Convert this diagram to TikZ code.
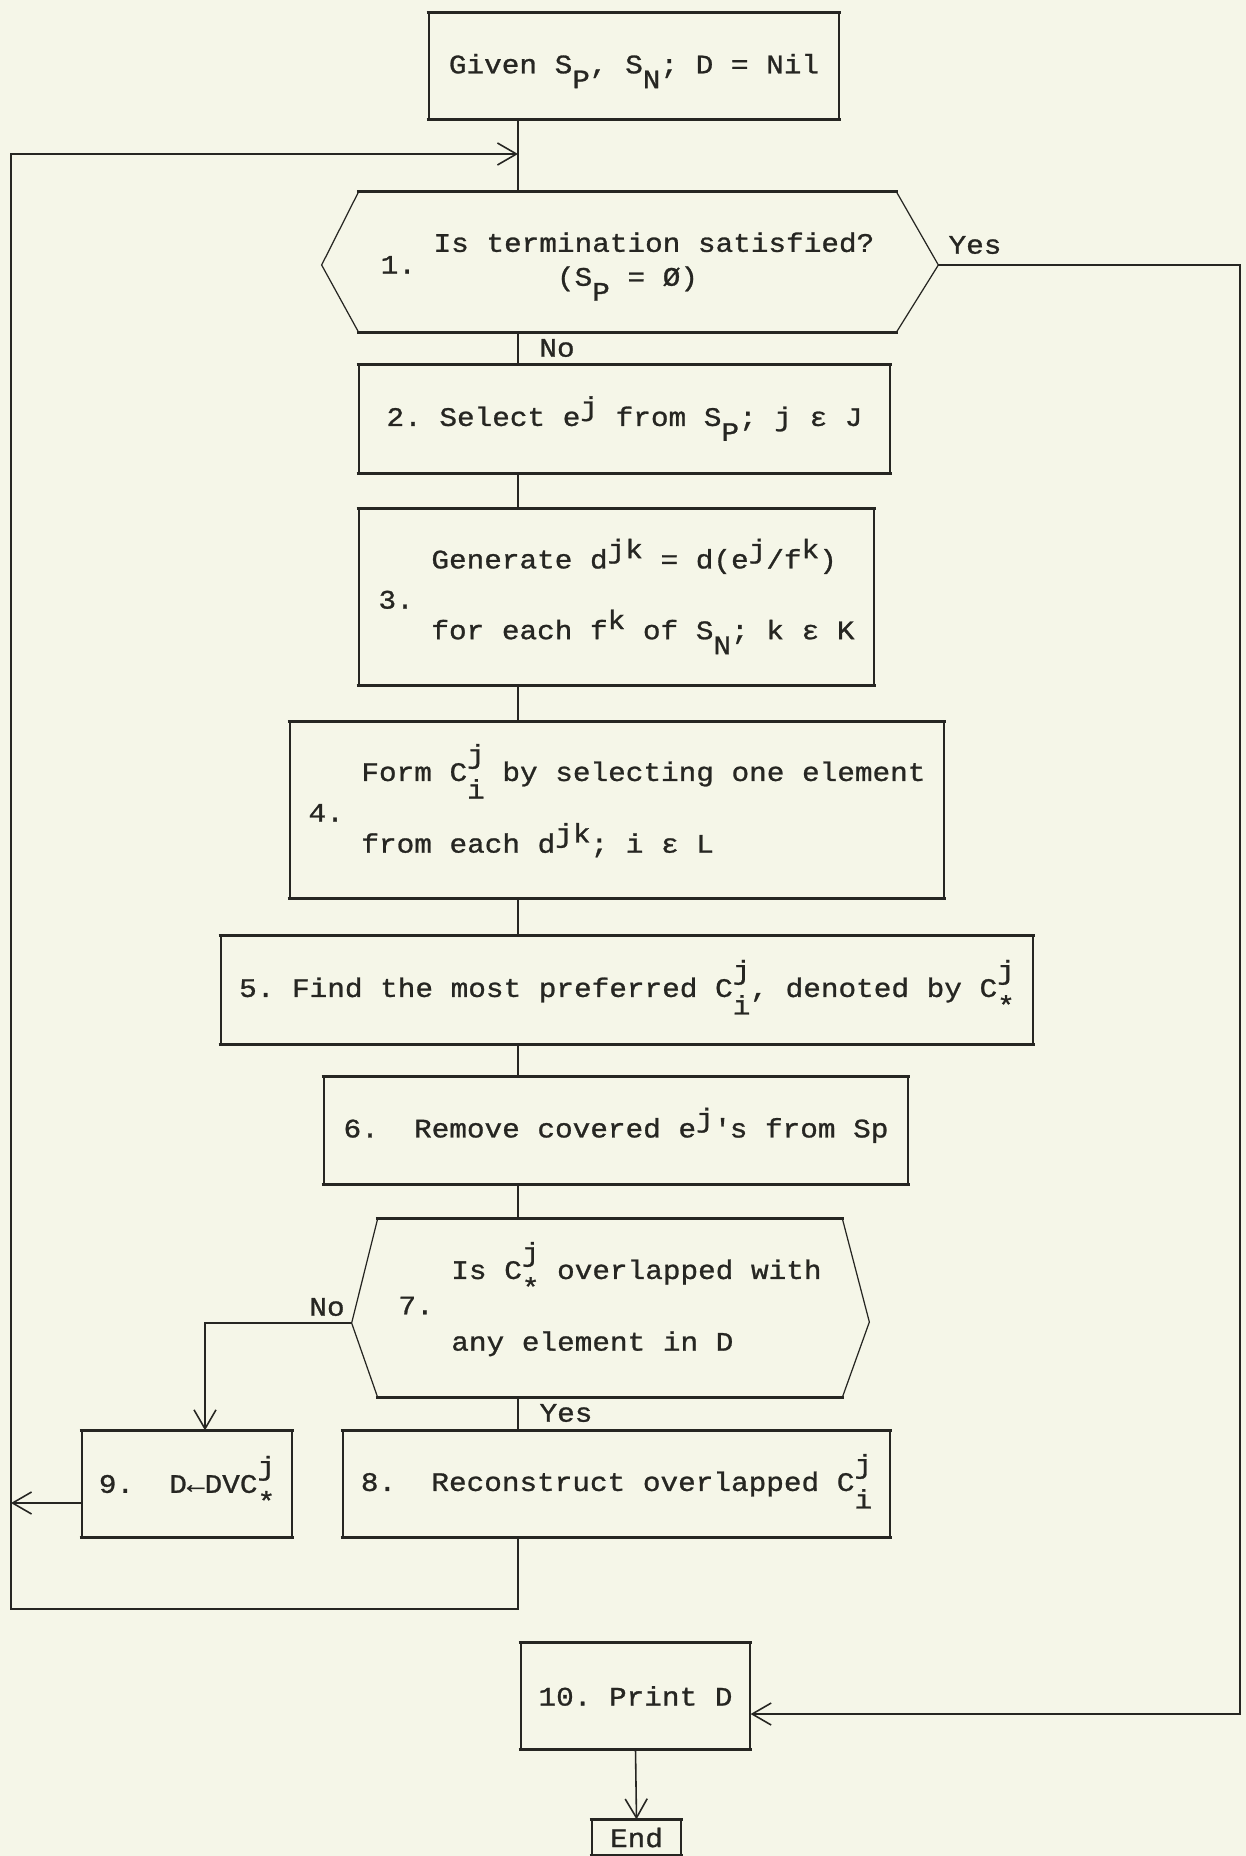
\documentclass[tikz,border=0pt]{standalone}
\usepackage{fontspec}
\setmainfont{Liberation Mono}[FakeStretch=1.1,FakeBold=1]
\usetikzlibrary{arrows.meta}

\definecolor{tinta}{RGB}{38,38,34}
\definecolor{papel}{RGB}{245,246,232}

% sub- e superindices del texto a maquina
\newcommand{\abajo}[1]{\raisebox{-8.5pt}[0pt][0pt]{#1}}
\newcommand{\arriba}[1]{\raisebox{5.8pt}[0pt][0pt]{#1}}
\newcommand{\ambos}[2]{\rlap{\raisebox{10pt}[0pt][0pt]{#1}}\raisebox{-10pt}[0pt][0pt]{#2}}
\newcommand{\paso}[1]{\raisebox{-3pt}{#1}}

\tikzset{
  tam/.style 2 args={minimum width=#1*0.02cm,minimum height=#2*0.02cm},
  caja/.style={draw=tinta,line width=0.7pt,inner sep=0pt},
  hexa/.style={inner sep=0pt},
  lado/.style={draw=tinta,line width=0.7pt},
  borde/.style={draw=tinta,line width=1.6pt},
  linea/.style={draw=tinta,line width=0.9pt},
  flecha/.style={linea,-{Straight Barb[length=3.8mm,width=4.4mm]}},
  etiq/.style={inner sep=0pt}
}

\begin{document}
\frenchspacing
\begin{tikzpicture}[x=0.02cm,y=-0.02cm,
  every node/.style={font=\fontsize{15.2}{19.3}\selectfont,text=tinta}]

% Fondo
\fill[papel] (0,0) rectangle (1246,1856);
\useasboundingbox (0,0) rectangle (1246,1856);

% Cajas
\node[caja,tam={410}{106}] (inicio) at (634,66) {Given S\abajo{P}, S\abajo{N}; D = Nil};

\node[hexa,tam={537}{140}] (dec1) at (627.5,262) {\paso{1.}~\begin{tabular}{@{}l@{}}Is termination satisfied?\\
  \phantom{Is term}(S\abajo{P} = Ø)\end{tabular}};

\node[caja,tam={531}{108}] (p2) at (624.5,419) {2. Select e\arriba{j} from S\abajo{P}; j ε J};

\node[caja,tam={515}{176}] (p3) at (616.5,597) {\paso{3.}~\begin{tabular}{@{}l@{}}Generate d\arriba{jk} = d(e\arriba{j}/f\arriba{k})\\[21pt]
  for each f\arriba{k} of S\abajo{N}; k ε K\end{tabular}};

\node[caja,tam={654}{176}] (p4) at (617,810) {\paso{4.}~\begin{tabular}{@{}l@{}}Form C\ambos{j}{i} by selecting one element\\[21.5pt]
  from each d\arriba{jk}; i ε L\end{tabular}};

\node[caja,tam={812}{108}] (p5) at (627,990) {5. Find the most preferred C\ambos{j}{i}, denoted by C\ambos{j}{*}};

\node[caja,tam={584}{107}] (p6) at (616,1130.5) {6.~~Remove covered e\arriba{j}\textquotesingle s from Sp};

\node[hexa,tam={464}{178}] (dec7) at (610,1308) {7.~\begin{tabular}{@{}l@{}}Is C\ambos{j}{*} overlapped with\\[21.5pt]
  any element in D\end{tabular}};

\node[caja,tam={547}{106}] (p8) at (616.5,1484) {8.~~Reconstruct overlapped C\ambos{j}{i}};
\node[caja,tam={210}{106}] (p9) at (187,1484) {9.~~D←DVC\ambos{j}{*}};
\node[caja,tam={229}{106}] (p10) at (635.5,1696) {10. Print D};
\node[caja,tam={89}{35}] (fin) at (636.5,1837.5) {End};

% Lados inclinados de las decisiones
\coordinate (d1izq) at ([shift={(-37,3)}]dec1.west);
\coordinate (d1der) at ([shift={(42,3)}]dec1.east);
\coordinate (d7izq) at ([shift={(-26,15)}]dec7.west);
\coordinate (d7der) at ([shift={(27,14)}]dec7.east);
\draw[lado] (dec1.north west) -- (d1izq) -- (dec1.south west);
\draw[lado] (dec1.north east) -- (d1der) -- (dec1.south east);
\draw[lado] (dec7.north west) -- (d7izq) -- (dec7.south west);
\draw[lado] (dec7.north east) -- (d7der) -- (dec7.south east);

% Bordes horizontales gruesos
\foreach \c in {inicio,dec1,p2,p3,p4,p5,p6,dec7,p8,p9,p10,fin}
  \draw[borde] ([xshift=-1pt]\c.north west) -- ([xshift=1pt]\c.north east)
               ([xshift=-1pt]\c.south west) -- ([xshift=1pt]\c.south east);

% Ejes de las conexiones
\coordinate (eje) at (518,0);
\coordinate (izq) at (11,0);
\coordinate (der) at (1240,0);
\coordinate (nob) at (205,0);
\coordinate (entra) at (518,154);
\coordinate (vuelta) at (518,1609);
\coordinate (p9s) at ([shift={(0,19)}]p9.west);
\coordinate (p10e) at ([shift={(0,18)}]p10.east);

% Flujo principal
\draw[linea] (inicio.south -| eje) -- (dec1.north -| eje);
\foreach \a/\b in {dec1/p2,p2/p3,p3/p4,p4/p5,p5/p6,p6/dec7,dec7/p8}
  \draw[linea] (\a.south -| eje) -- (\b.north -| eje);

% Regreso al paso 1
\draw[flecha] (p8.south -| eje) -- (vuelta) -- (vuelta -| izq) -- (entra -| izq) -- (entra);
\draw[flecha] (p9s) -- (p9s -| izq);

% Rama No del paso 7
\draw[flecha] (d7izq) -| (p9.north -| nob);

% Rama Yes del paso 1
\draw[flecha] (d1der) -- (d1der -| der) -- (p10e -| der) -- (p10e);

% Fin
\draw[flecha] (p10.south) -- (fin.north);

% Etiquetas
\node[etiq] (si1) at (975,245) {Yes};
\node[etiq] (no1) at (557,348) {No};
\node[etiq] (no7) at (327,1307) {No};
\node[etiq] (si7) at (566,1413) {Yes};

\end{tikzpicture}
\end{document}
